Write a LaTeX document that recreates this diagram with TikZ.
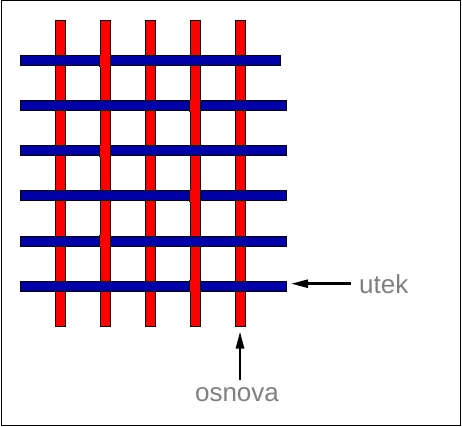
\documentclass[tikz,border=0pt]{standalone}
\usepackage{fontspec}
\setmainfont{Liberation Sans}
\usetikzlibrary{arrows.meta,positioning}
\definecolor{warpred}{RGB}{255,0,0}
\definecolor{weftblue}{RGB}{0,0,170}
\definecolor{labelgray}{RGB}{128,128,128}

\begin{document}
\begin{tikzpicture}[x=1pt, y=-1pt,
    warp/.style={rectangle, draw=black, line width=1pt, fill=warpred, inner sep=0pt, minimum width=10pt, minimum height=305pt},
    weft/.style={rectangle, draw=black, line width=1pt, fill=weftblue, inner sep=0pt, minimum width=266pt, minimum height=10pt},
    over/.style={rectangle, fill=warpred, inner sep=0pt, minimum width=10pt, minimum height=12pt},
    lbl/.style={text=labelgray, font=\fontsize{26}{31}\selectfont, inner sep=0pt},
    arr/.style={-{Triangle[length=17pt, width=8pt]}, line width=2.5pt}]
    \useasboundingbox (0,0) rectangle (462,427);
    \draw[line width=1pt] (1,1) rectangle (460.5,425.5);

    % Warp threads (osnova)
    \node[warp] (w1) at (60,173.5) {};
    \node[warp] (w2) at (105,173.5) {};
    \node[warp] (w3) at (150,173.5) {};
    \node[warp] (w4) at (195,173.5) {};
    \node[warp] (w5) at (240,173.5) {};

    % Weft threads (utek)
    \node[weft, minimum width=260pt] (u1) at (150,61) {};
    \node[weft] (u2) at (153,106) {};
    \node[weft] (u3) at (153,151) {};
    \node[weft] (u4) at (153,196) {};
    \node[weft] (u5) at (153,241) {};
    \node[weft] (u6) at (153,286) {};

    % Warp over weft
    \node[over] (c1) at (105,61) {};
    \node[over] (c2) at (195,106) {};
    \node[over] (c3) at (105,151) {};
    \node[over] (c4) at (195,196) {};
    \node[over] (c5) at (105,241) {};
    \node[over] (c6) at (195,286) {};
    \foreach \c in {c1,c2,c3,c4,c5,c6}
        \draw[line width=1pt] (\c.north west) -- (\c.south west) (\c.north east) -- (\c.south east);

    % Labels
    \node[lbl, anchor=base west] (utek) at (359,293) {utek};
    \node[lbl, anchor=base] (osnova) at (237,401) {osnova};
    \draw[arr, shorten <=8pt, shorten >=4.5pt] (utek.west) -- (utek.west -| u6.east);
    \draw[arr, shorten <=7pt, shorten >=5pt] (osnova.north -| w5.south) -- (w5.south);
\end{tikzpicture}
\end{document}
